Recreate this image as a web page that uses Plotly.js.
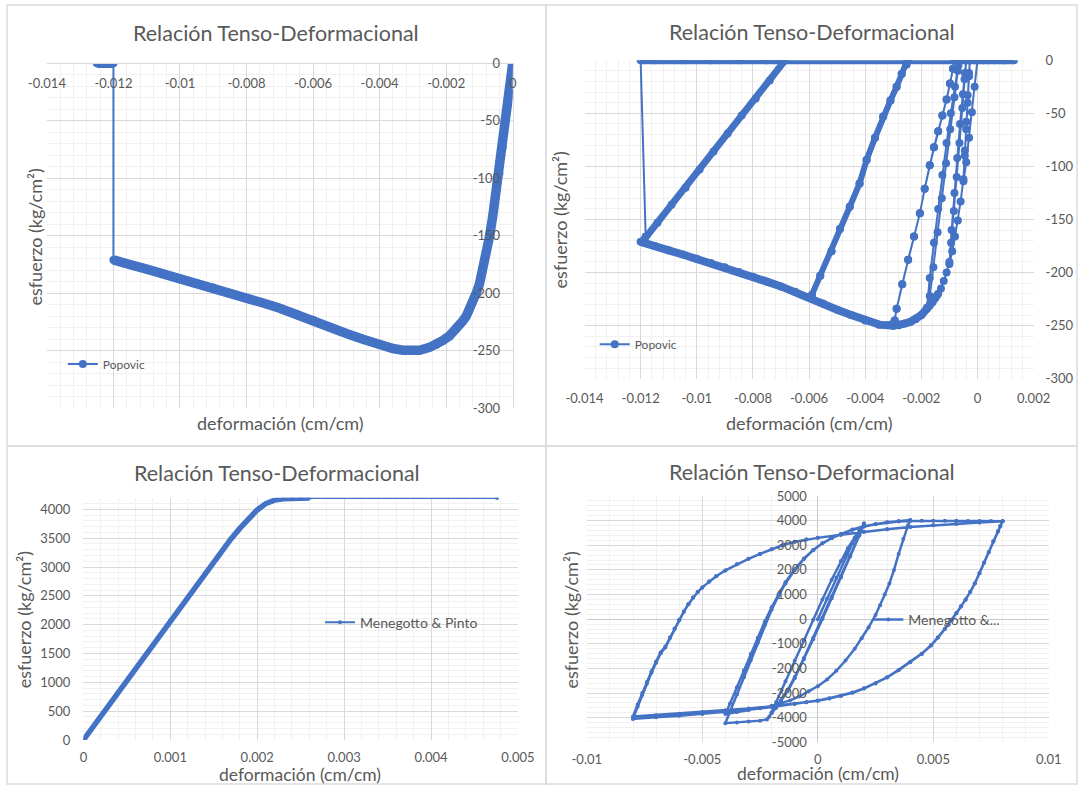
<!DOCTYPE html>
<html><head><meta charset="utf-8">
<script src="https://cdn.plot.ly/plotly-3.0.1.min.js"></script>
<style>html,body{margin:0;padding:0;background:#fff;}#chart{width:1081px;height:785px;}</style>
</head><body><div id="chart"></div>
<script>
// ---------------- DATA ----------------
// Panel 1: Popovic, monotonic
const pop1EnvStrain = [0,-0.0001,-0.0002,-0.0003,-0.0004,-0.0005,-0.0006,-0.0007,-0.0008,-0.0009,-0.001,-0.0011,-0.0012,-0.0013,-0.0014,-0.0015,-0.0017,-0.0019,-0.0021,-0.0023,-0.0025,-0.0028,-0.003,-0.0033,-0.0036,-0.004,-0.0045,-0.005,-0.0055,-0.006,-0.0065,-0.007,-0.0075,-0.008,-0.0085,-0.009,-0.0095,-0.01,-0.0105,-0.011,-0.0115,-0.012];
const pop1EnvStress = [0,-25,-49,-73,-96,-114,-133,-151,-166,-180,-192,-200,-208,-215,-220,-224,-231,-237,-241,-245,-247,-249.5,-250,-249.5,-248,-245,-240,-235,-229,-223,-218,-213,-208.5,-204,-199.5,-195,-191,-187,-183,-179,-175,-171];
const pop1CrushStrain = [-0.012,-0.0121,-0.0122,-0.0123,-0.0124,-0.0125];
const pop1CrushStress = [0,0,0,0,0,0];

// Panel 2: Popovic, cyclic (segments in loading order)
const popA_strain = [0,-0.0001,-0.0002,-0.0003,-0.0004,-0.0005];
const popA_stress = [0,-25,-49,-73,-96,-114];
const popB_strain = [-0.00045,-0.0004,-0.00035,-0.0003,-0.00027];
const popB_stress = [-85,-58,-33,-12,0];
const popC_strain = [-0.0001,0.0002,0.0006,0.001,0.0013,0.0009,0.0004,0,-0.00027];
const popC_stress = [0,0,0,0,0,0,0,0,0];
const popD_strain = [-0.0003,-0.00035,-0.0004,-0.00045,-0.0005];
const popD_stress = [-15,-40,-65,-90,-112];
const popE_strain = [-0.0006,-0.0007,-0.0008,-0.0009,-0.001];
const popE_stress = [-133,-151,-166,-180,-192];
const popF_strain = [-0.00092,-0.00082,-0.00072,-0.00062,-0.00052,-0.00045,-0.0004];
const popF_stress = [-160,-125,-92,-60,-32,-12,0];
const popG_strain = [-0.00046,-0.00054,-0.00064,-0.00074,-0.00084,-0.00094,-0.001];
const popG_stress = [-18,-45,-78,-110,-142,-172,-190];
const popH_strain = [-0.0011,-0.0012,-0.0013,-0.0014,-0.0015,-0.0016,-0.0017,-0.0018];
const popH_stress = [-200,-208,-215,-220,-224,-228,-231,-234];
const popI_strain = [-0.0017,-0.00155,-0.0014,-0.00125,-0.0011,-0.00095,-0.0008,-0.00068,-0.00065];
const popI_stress = [-205,-172,-140,-108,-78,-50,-25,-5,0];
const popJ_strain = [-0.0007,-0.00082,-0.00097,-0.00112,-0.00127,-0.00142,-0.00157,-0.0017,-0.0018];
const popJ_stress = [-10,-35,-65,-97,-130,-162,-195,-222,-233];
const popK_strain = [-0.002,-0.0022,-0.0024,-0.0026,-0.0028,-0.003];
const popK_stress = [-240,-244,-246.5,-248,-249.5,-250];
const popL_strain = [-0.00295,-0.00288,-0.00268,-0.00247,-0.00226,-0.00205,-0.00188,-0.0017,-0.00155,-0.0014,-0.00125,-0.0011,-0.00098,-0.00087,-0.00085];
const popL_stress = [-245,-234,-211,-188,-166,-144,-121,-99,-82,-67,-52,-37,-22,-8,0];
const popN_strain = [-0.0035,-0.004,-0.0045,-0.005,-0.0055,-0.006];
const popN_stress = [-249,-245,-240,-235,-229,-223];
const popO_strain = [-0.0059,-0.0056,-0.0052,-0.0049,-0.00455,-0.0042,-0.00395,-0.00365,-0.00336,-0.0031,-0.00288,-0.0027,-0.00253,-0.0025];
const popO_stress = [-221,-203,-180,-159,-138,-116,-94,-73,-53,-38,-25,-13,-4,0];
const popQ_strain = [-0.0065,-0.007,-0.0075,-0.008,-0.0085,-0.009,-0.0095,-0.01,-0.0105,-0.011,-0.0115,-0.012];
const popQ_stress = [-218,-213,-208.5,-204,-199.5,-195,-191,-187,-183,-179,-175,-171];
const popR_strain = [-0.01188,-0.0114,-0.0109,-0.0104,-0.0099,-0.0094,-0.0089,-0.0084,-0.0079,-0.0074,-0.00685];
const popR_stress = [-169,-153,-136,-120,-103,-86,-69,-52,-36,-19,0];
const popS_strain = [-0.0075,-0.0085,-0.0095,-0.0105,-0.0115,-0.012];
const popS_stress = [0,0,0,0,0,0];
const popT_strain = [-0.01182];
const popT_stress = [-166];

// Panel 3: Menegotto & Pinto, monotonic
const mpMonoStrain = [0,0.0002,0.0004,0.0006,0.0008,0.001,0.0012,0.0014,0.0016,0.0017,0.0018,0.0019,0.002,0.0021,0.0022,0.0023,0.0024,0.0025,0.0026,0.00476];
const mpMonoStress = [0,415,830,1245,1660,2075,2490,2900,3300,3490,3670,3840,3990,4100,4160,4185,4192,4196,4198,4198];

// Panel 4: Menegotto & Pinto, cyclic (branches in loading order)
const mpB0_strain = [0,0.0004,0.0008,0.0012,0.0015,0.0017,0.0019,0.002];
const mpB0_stress = [0,840,1680,2500,3080,3420,3720,3880];
const mpB1_strain = [0.0018,0.0014,0.001,0.0006,0.0002,-0.0002,-0.0006,-0.001,-0.0013,-0.0016,-0.0018,-0.002];
const mpB1_stress = [3420,2580,1740,900,60,-770,-1580,-2350,-2870,-3300,-3560,-3780];
const mpB2_strain = [-0.0018,-0.0014,-0.001,-0.0006,-0.0002,0.0002,0.0006,0.001,0.0013,0.0016,0.0018,0.002];
const mpB2_stress = [-3360,-2520,-1690,-860,-20,800,1600,2360,2880,3320,3600,3880];
const mpB3_strain = [0.0018,0.0014,0.001,0.0006,0.0002,-0.0002,-0.0006,-0.001,-0.0013,-0.0016,-0.0018,-0.002];
const mpB3_stress = [3400,2540,1690,850,10,-820,-1630,-2400,-2920,-3350,-3600,-3816];
const mpHook_strain = [-0.0021,-0.0022,-0.0025,-0.003,-0.0035,-0.004];
const mpHook_stress = [-3960,-4070,-4120,-4160,-4195,-4222];
const mpD1_strain = [-0.0038,-0.0035,-0.0032,-0.0029,-0.0026,-0.0023,-0.002,-0.0017,-0.0014,-0.001,-0.0006,-0.0002,0.0002,0.0006,0.001,0.0015,0.002,0.0025,0.003,0.0035,0.004];
const mpD1_stress = [-3750,-3060,-2360,-1660,-960,-250,380,950,1450,1990,2440,2800,3080,3290,3460,3640,3770,3860,3930,3980,4030];
const mpE1_strain = [0.0039,0.0037,0.0035,0.0033,0.0031,0.0029,0.0027,0.0025,0.0022,0.0019,0.0016,0.0012,0.0008,0.0004,0,-0.0004,-0.0008,-0.0012,-0.0016,-0.002,-0.0025,-0.003,-0.0035,-0.004];
const mpE1_stress = [3800,3250,2650,2000,1450,1000,560,170,-330,-780,-1200,-1680,-2100,-2450,-2720,-2930,-3140,-3300,-3420,-3520,-3620,-3690,-3770,-3850];
const mpD2_strain = [-0.0038,-0.0035,-0.0032,-0.0029,-0.0026,-0.0023,-0.002,-0.0017,-0.0014,-0.001,-0.0006,-0.0002,0.0002,0.0006,0.001,0.0015,0.002,0.0025,0.003,0.0035,0.004];
const mpD2_stress = [-3420,-2760,-2080,-1420,-760,-110,480,1020,1500,2030,2460,2810,3080,3290,3460,3630,3760,3850,3920,3960,3990];
const mpF_strain = [0.0045,0.005,0.0055,0.006,0.0065,0.007,0.0075,0.008];
const mpF_stress = [3995,4000,4000,3995,3990,3985,3980,3975];
const mpG_strain = [0.0079,0.0078,0.0076,0.0074,0.0072,0.007,0.0068,0.0066,0.0064,0.0062,0.006,0.0058,0.0055,0.0052,0.0049,0.0045,0.004,0.0035,0.003,0.0025,0.002,0.0015,0.001,0.0005,0,-0.0005,-0.001,-0.002,-0.003,-0.004,-0.005,-0.006,-0.007,-0.008];
const mpG_stress = [3780,3570,3160,2730,2300,1870,1460,1110,800,520,250,-20,-390,-740,-1060,-1400,-1740,-2060,-2360,-2600,-2810,-2980,-3110,-3210,-3300,-3370,-3440,-3570,-3680,-3770,-3850,-3920,-3985,-4050];
const mpH_strain = [-0.0078,-0.0076,-0.0074,-0.0072,-0.007,-0.0068,-0.0066,-0.0064,-0.0062,-0.006,-0.0058,-0.0056,-0.0054,-0.0052,-0.005,-0.0047,-0.0044,-0.004,-0.0035,-0.003,-0.0025,-0.002,-0.0015,-0.001,-0.0005,0,0.001,0.002,0.003,0.004,0.005,0.006,0.007,0.008];
const mpH_stress = [-3560,-3080,-2620,-2180,-1770,-1380,-1150,-770,-400,-40,300,610,880,1100,1290,1530,1740,1980,2230,2450,2650,2840,3010,3140,3230,3300,3430,3550,3650,3740,3810,3870,3920,3970];
const mpG2_strain = [0.0079,0.0078,0.0076,0.0074,0.0072,0.007,0.0068,0.0066,0.0064,0.0062,0.006,0.0058,0.0055,0.0052,0.0049,0.0045,0.004,0.0035,0.003,0.0025,0.002,0.0015,0.001,0.0005,0,-0.0005,-0.001,-0.002,-0.003,-0.004,-0.005,-0.006,-0.007,-0.008];
const mpG2_stress = [3770,3560,3150,2720,2290,1860,1450,1100,790,510,240,-30,-400,-750,-1070,-1410,-1750,-2070,-2370,-2610,-2820,-2990,-3120,-3220,-3310,-3370,-3430,-3540,-3630,-3700,-3770,-3840,-3900,-3950];
const mpH2_strain = [-0.0078,-0.0076,-0.0074,-0.0072,-0.007,-0.0068,-0.0066,-0.0064,-0.0062,-0.006,-0.0058,-0.0056,-0.0054,-0.0052,-0.005,-0.0047,-0.0044,-0.004,-0.0035,-0.003,-0.0025,-0.002,-0.0015,-0.001,-0.0005,0,0.001,0.002,0.003,0.004,0.005,0.006,0.007,0.008];
const mpH2_stress = [-3470,-3000,-2550,-2120,-1720,-1340,-1110,-740,-380,-20,310,615,880,1100,1290,1530,1740,1980,2230,2450,2650,2840,3010,3140,3230,3300,3430,3550,3650,3740,3810,3870,3920,3970];

// Tick labels
const p1XTicks = [-0.014,-0.012,-0.01,-0.008,-0.006,-0.004,-0.002,0];
const p1XText = ['-0.014','-0.012','-0.01','-0.008','-0.006','-0.004','-0.002','0'];
const p2XTicks = [-0.014,-0.012,-0.01,-0.008,-0.006,-0.004,-0.002,0,0.002];
const p2XText = ['-0.014','-0.012','-0.01','-0.008','-0.006','-0.004','-0.002','0','0.002'];
const popYTicks = [-300,-250,-200,-150,-100,-50,0];
const popYText = ['-300','-250','-200','-150','-100','-50','0'];
const p3XTicks = [0,0.001,0.002,0.003,0.004,0.005];
const p3XText = ['0','0.001','0.002','0.003','0.004','0.005'];
const p3YTicks = [0,500,1000,1500,2000,2500,3000,3500,4000];
const p3YText = ['0','500','1000','1500','2000','2500','3000','3500','4000'];
const p4XTicks = [-0.01,-0.005,0,0.005,0.01];
const p4XText = ['-0.01','-0.005','0','0.005','0.01'];
const p4YTicks = [-5000,-4000,-3000,-2000,-1000,0,1000,2000,3000,4000,5000];
const p4YText = ['-5000','-4000','-3000','-2000','-1000','0','1000','2000','3000','4000','5000'];

const chartTitle = 'Relación Tenso-Deformacional';
const xTitle = 'deformación (cm/cm)';
const yTitle = 'esfuerzo (kg/cm²)';

// ---------------- BUILD ----------------
const W = 1081, H = 785;
const fx = p => p / W, fy = p => 1 - p / H;
const BLUE = '#4472C4', TXT = '#595959', GRID = '#d9d9d9', MINOR = '#f1f1f1';
const FONT = 'Lato, "Open Sans", sans-serif';
const cat = (...a) => [].concat(...a);
const rev = a => a.slice().reverse();

const traces = [];
function band(x, y, xa, ya, w) {
  traces.push({x, y, xaxis: xa, yaxis: ya, mode: 'lines', line: {color: BLUE, width: w}, showlegend: false, hoverinfo: 'skip'});
}
// Panel 1
band(pop1EnvStrain, pop1EnvStress, 'x', 'y', 9.5);
band(pop1CrushStrain, pop1CrushStress, 'x', 'y', 9.5);
traces.push({x: cat(pop1EnvStrain, pop1CrushStrain), y: cat(pop1EnvStress, pop1CrushStress),
  xaxis: 'x', yaxis: 'y', mode: 'lines+markers', name: 'Popovic', legend: 'legend',
  line: {color: BLUE, width: 2}, marker: {color: BLUE, size: 8}});

// Panel 2
const p2x = cat(popA_strain, popB_strain, popC_strain, popD_strain, popE_strain, popF_strain, popG_strain,
  popH_strain, popI_strain, popJ_strain, popK_strain, popL_strain, rev(popL_strain), popN_strain,
  popO_strain, rev(popO_strain), popQ_strain, popR_strain, popS_strain, popT_strain);
const p2y = cat(popA_stress, popB_stress, popC_stress, popD_stress, popE_stress, popF_stress, popG_stress,
  popH_stress, popI_stress, popJ_stress, popK_stress, popL_stress, rev(popL_stress), popN_stress,
  popO_stress, rev(popO_stress), popQ_stress, popR_stress, popS_stress, popT_stress);
band(cat(popH_strain.slice(3), popK_strain, popN_strain, popQ_strain), cat(popH_stress.slice(3), popK_stress, popN_stress, popQ_stress), 'x2', 'y2', 8);
band(cat(rev(popS_strain), popC_strain.slice(0, 5)), cat(popS_stress, popC_stress.slice(0, 5)), 'x2', 'y2', 8);
band(popR_strain, popR_stress, 'x2', 'y2', 7);
band(popO_strain, popO_stress, 'x2', 'y2', 6);
traces.push({x: p2x, y: p2y, xaxis: 'x2', yaxis: 'y2', mode: 'lines+markers', name: 'Popovic', legend: 'legend2',
  line: {color: BLUE, width: 2}, marker: {color: BLUE, size: 8}});

// Panel 3
band(mpMonoStrain.slice(0, -1), mpMonoStress.slice(0, -1), 'x3', 'y3', 5.5);
traces.push({x: mpMonoStrain, y: mpMonoStress, xaxis: 'x3', yaxis: 'y3', mode: 'lines+markers', name: 'Menegotto & Pinto',
  legend: 'legend3', line: {color: BLUE, width: 2}, marker: {color: BLUE, size: 4}});

// Panel 4
traces.push({x: cat(mpB0_strain, mpB1_strain, mpB2_strain, mpB3_strain, mpHook_strain, mpD1_strain, mpE1_strain, mpD2_strain, mpF_strain, mpG_strain, mpH_strain, mpG2_strain, mpH2_strain),
  y: cat(mpB0_stress, mpB1_stress, mpB2_stress, mpB3_stress, mpHook_stress, mpD1_stress, mpE1_stress, mpD2_stress, mpF_stress, mpG_stress, mpH_stress, mpG2_stress, mpH2_stress),
  xaxis: 'x4', yaxis: 'y4', mode: 'lines+markers', name: 'Menegotto &...', legend: 'legend4',
  line: {color: BLUE, width: 2.5}, marker: {color: BLUE, size: 4}});

const tf = {size: 13, color: TXT, family: FONT};
function ax(o) {
  return Object.assign({tickmode: 'array', showgrid: true, gridcolor: GRID, gridwidth: 1, zeroline: false,
    ticks: '', tickfont: tf, fixedrange: true, showline: false}, o);
}
const layout = {
  width: W, height: H, margin: {l: 0, r: 0, t: 0, b: 0},
  paper_bgcolor: '#fff', plot_bgcolor: '#fff', font: {family: FONT, color: TXT},
  // Panel 1
  xaxis: ax({domain: [fx(46.9), fx(512.7)], range: [-0.014, 0], anchor: 'free', position: fy(63.3), side: 'bottom',
    tickvals: p1XTicks, ticktext: p1XText, ticklabelstandoff: 8, showline: true, linecolor: GRID,
    minor: {tickmode: 'linear', tick0: 0, dtick: 0.0004, showgrid: true, gridcolor: MINOR}}),
  yaxis: ax({domain: [fy(408.3), fy(63.3)], range: [-300, 0], anchor: 'free', position: fx(512.7), side: 'left',
    tickvals: popYTicks, ticktext: popYText, ticklabelstandoff: 10, showline: true, linecolor: GRID,
    minor: {tickmode: 'linear', tick0: 0, dtick: 10, showgrid: true, gridcolor: MINOR}}),
  // Panel 2
  xaxis2: ax({domain: [fx(584.5), fx(1033.6)], range: [-0.014, 0.002], anchor: 'y2', side: 'bottom',
    tickvals: p2XTicks, ticktext: p2XText, ticklabelstandoff: 10,
    minor: {tickmode: 'linear', tick0: 0, dtick: 0.0004, showgrid: true, gridcolor: MINOR}}),
  yaxis2: ax({domain: [fy(378.8), fy(60.2)], range: [-300, 0], anchor: 'x2', side: 'right',
    tickvals: popYTicks, ticktext: popYText, ticklabelstandoff: 11,
    minor: {tickmode: 'linear', tick0: 0, dtick: 10, showgrid: true, gridcolor: MINOR}}),
  // Panel 3
  xaxis3: ax({domain: [fx(83.4), fx(517.9)], range: [0, 0.005], anchor: 'y3', side: 'bottom',
    tickvals: p3XTicks, ticktext: p3XText, ticklabelstandoff: 8,
    minor: {tickmode: 'linear', tick0: 0, dtick: 0.0002, showgrid: true, gridcolor: MINOR}}),
  yaxis3: ax({domain: [fy(740), fy(497.8)], range: [0, 4200], anchor: 'x3', side: 'left',
    tickvals: p3YTicks, ticktext: p3YText, ticklabelstandoff: 12,
    minor: {tickmode: 'linear', tick0: 0, dtick: 100, showgrid: true, gridcolor: MINOR}}),
  // Panel 4
  xaxis4: ax({domain: [fx(586.8), fx(1048.8)], range: [-0.01, 0.01], anchor: 'y4', side: 'bottom',
    tickvals: p4XTicks, ticktext: p4XText, ticklabelstandoff: 8, zeroline: true, zerolinecolor: '#c8c8c8', zerolinewidth: 1,
    minor: {tickmode: 'linear', tick0: 0, dtick: 0.001, showgrid: true, gridcolor: MINOR}}),
  yaxis4: ax({domain: [fy(742.3), fy(496)], range: [-5000, 5000], anchor: 'free', position: fx(817.8), side: 'left',
    tickvals: p4YTicks, ticktext: p4YText, ticklabelstandoff: 11, zeroline: true, zerolinecolor: '#c8c8c8', zerolinewidth: 1,
    minor: {tickmode: 'linear', tick0: 0, dtick: 200, showgrid: true, gridcolor: MINOR}}),
  legend: {x: fx(62.8), y: fy(364), xanchor: 'left', yanchor: 'middle', bgcolor: 'rgba(0,0,0,0)', font: {size: 12, color: TXT, family: FONT}},
  legend2: {x: fx(594.7), y: fy(344.3), xanchor: 'left', yanchor: 'middle', bgcolor: 'rgba(0,0,0,0)', font: {size: 12, color: TXT, family: FONT}},
  legend3: {x: fx(320), y: fy(622.7), xanchor: 'left', yanchor: 'middle', bgcolor: 'rgba(0,0,0,0)', font: {size: 14, color: TXT, family: FONT}},
  legend4: {x: fx(868.3), y: fy(620), xanchor: 'left', yanchor: 'middle', bgcolor: 'rgba(0,0,0,0)', font: {size: 14, color: TXT, family: FONT}},
  shapes: [
    {type: 'rect', xref: 'paper', yref: 'paper', x0: fx(7), x1: fx(546), y0: fy(446), y1: fy(5), line: {color: '#dcdcdc', width: 1.5}},
    {type: 'rect', xref: 'paper', yref: 'paper', x0: fx(546), x1: fx(1077), y0: fy(446), y1: fy(5), line: {color: '#dcdcdc', width: 1.5}},
    {type: 'rect', xref: 'paper', yref: 'paper', x0: fx(7), x1: fx(546), y0: fy(784), y1: fy(446), line: {color: '#dcdcdc', width: 1.5}},
    {type: 'rect', xref: 'paper', yref: 'paper', x0: fx(546), x1: fx(1077), y0: fy(784), y1: fy(446), line: {color: '#dcdcdc', width: 1.5}}
  ],
  annotations: []
};
function note(text, x, y, size, angle) {
  layout.annotations.push({text, x: fx(x), y: fy(y), xref: 'paper', yref: 'paper', showarrow: false,
    xanchor: 'center', yanchor: 'middle', textangle: angle || 0, font: {size, color: TXT, family: FONT}});
}
note(chartTitle, 276.3, 33.3, 21.5); note(chartTitle, 811.7, 31.7, 21.5);
note(chartTitle, 277, 473.3, 21.5); note(chartTitle, 811.7, 471.7, 21.5);
note(xTitle, 280.3, 423.3, 18); note(xTitle, 809.8, 423.3, 18);
note(xTitle, 300.3, 774.5, 17.5); note(xTitle, 817.6, 773.5, 17.5);
note(yTitle, 34.8, 236.7, 18, -90); note(yTitle, 560.4, 220, 18, -90);
note(yTitle, 24.3, 620, 18, -90); note(yTitle, 570.6, 620, 18, -90);

Plotly.newPlot('chart', traces, layout, {staticPlot: true, displayModeBar: false});
</script></body></html>
